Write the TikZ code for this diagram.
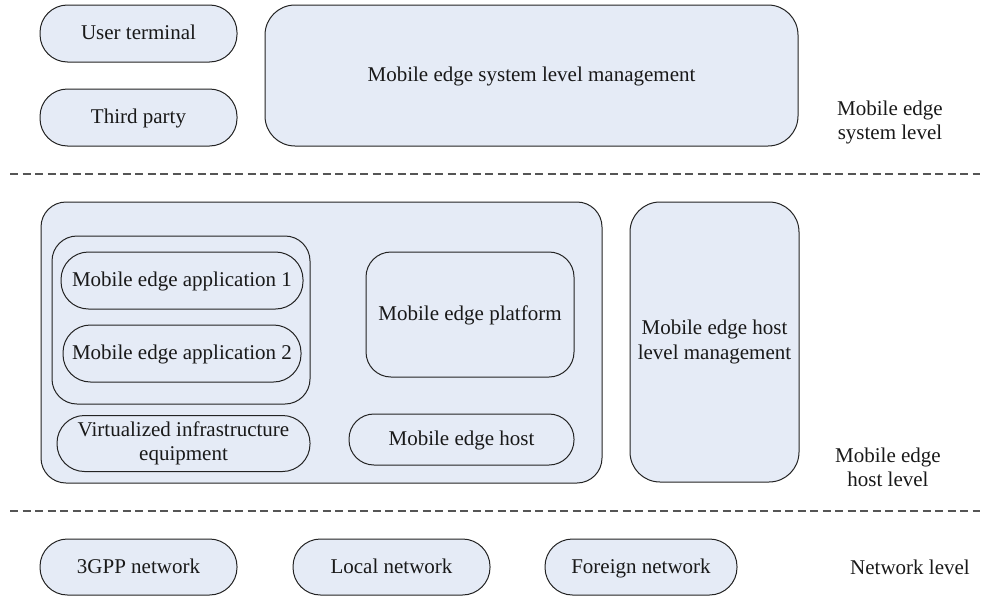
\documentclass[tikz,border=0pt]{standalone}
\usepackage{fontspec}
\setmainfont{Liberation Serif}
\definecolor{boxfill}{RGB}{229,235,246}
\definecolor{boxline}{RGB}{35,35,35}
\definecolor{dashline}{RGB}{85,85,85}
\begin{document}
\begin{tikzpicture}[x=1pt,y=-1pt,
  mbox/.style={draw=boxline, fill=boxfill, line width=1pt, inner sep=0pt, align=center,
    font=\fontsize{21}{24.5}\selectfont, text=black!90},
  box/.style={mbox, text height=15pt, text depth=3pt},
  pill/.style={box, rounded corners=27.5pt},
  mpill/.style={mbox, rounded corners=27.5pt},
  lbl/.style={align=center, font=\fontsize{21}{24}\selectfont, text=black!90},
  sep/.style={draw=dashline, line width=1.2pt, dash pattern=on 8pt off 4.5pt}]
\useasboundingbox (0,0) rectangle (984,597);
% system level
\node[pill, minimum width=197pt, minimum height=57pt] (ut) at (138.5,33.5) {User terminal};
\node[pill, minimum width=197pt, minimum height=57pt] (tp) at (138.5,117.5) {Third party};
\node[box, rounded corners=30pt, minimum width=533pt, minimum height=141pt] (sys) at (531.5,75.5) {Mobile edge system level management};
\node[lbl] (sysl) at (890,122) {Mobile edge\\system level};
\coordinate (d1a) at (10,174);
\coordinate (d1b) at (980,174);
\draw[sep] (d1a) -- (d1b);
% host level
\node[mbox, rounded corners=25pt, minimum width=561pt, minimum height=281pt] (host) at (321.5,342.5) {};
\node[mbox, rounded corners=25pt, minimum width=258pt, minimum height=168pt] (cont) at (181,320) {};
\node[pill, minimum width=242pt, minimum height=57pt] (app1) at (182,280.5) {Mobile edge application 1};
\node[pill, minimum width=238pt, minimum height=57pt] (app2) at (182,353.5) {Mobile edge application 2};
\node[mpill, minimum width=253pt, minimum height=56pt] (virt) at (183.5,443.5) {Virtualized infrastructure\\equipment};
\node[box, rounded corners=25pt, minimum width=208pt, minimum height=125pt] (plat) at (470,314.5) {Mobile edge platform};
\node[box, rounded corners=25pt, minimum width=225pt, minimum height=51pt] (mehost) at (461.5,439.5) {Mobile edge host};
\node[mbox, rounded corners=30pt, minimum width=169pt, minimum height=280pt] (hmgmt) at (714.5,342) {Mobile edge host\\level management};
\node[lbl] (hostl) at (888,467) {Mobile edge\\host level};
\coordinate (d2a) at (10,511);
\coordinate (d2b) at (980,511);
\draw[sep] (d2a) -- (d2b);
% network level
\node[pill, minimum width=197pt, minimum height=56pt] (n3gpp) at (138.5,567) {3GPP network};
\node[pill, minimum width=197pt, minimum height=56pt] (local) at (391.5,567) {Local network};
\node[pill, minimum width=192pt, minimum height=56pt] (foreign) at (641,567) {Foreign network};
\node[lbl] (netl) at (910,567) {Network level};
\end{tikzpicture}
\end{document}
